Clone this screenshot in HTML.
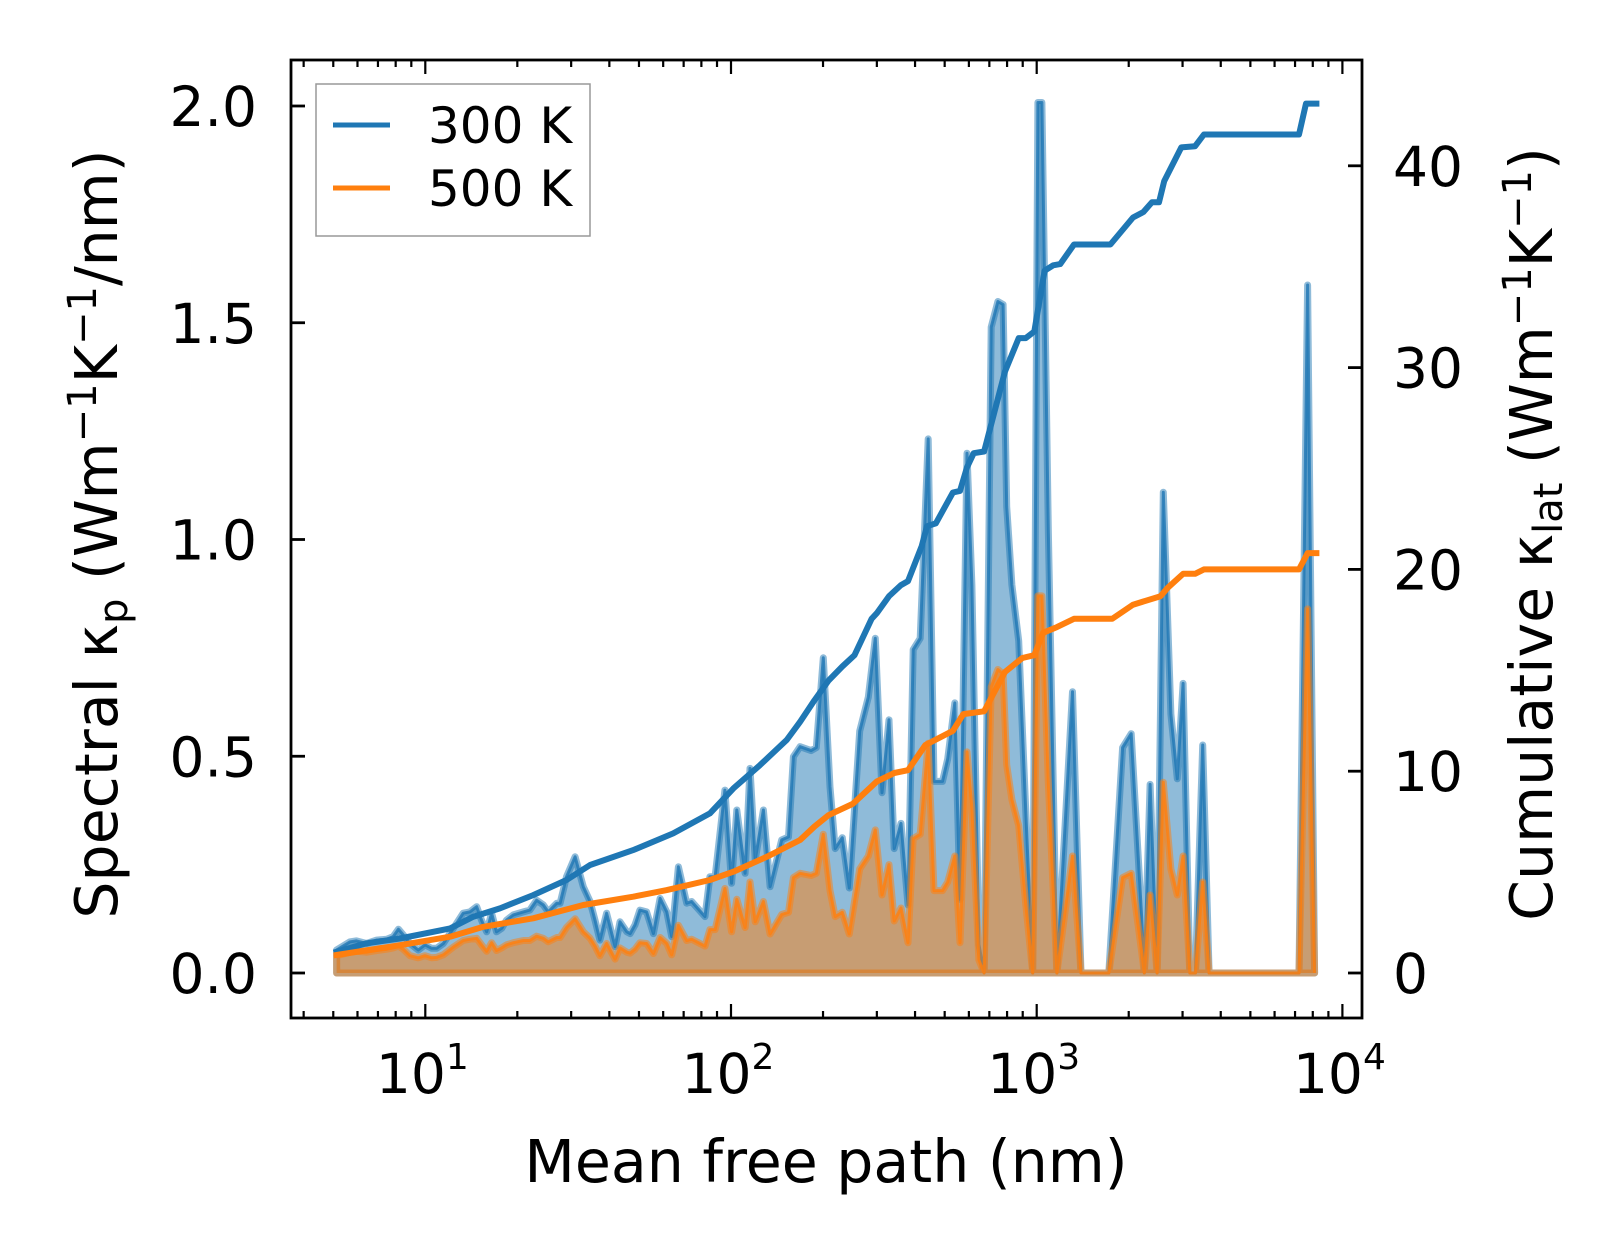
<!DOCTYPE html>
<html><head><meta charset="utf-8"><style>
html,body{margin:0;padding:0;background:#fff;}
svg{display:block;font-family:"DejaVu Sans","Liberation Sans",sans-serif;}
</style></head><body>
<svg id="chart" width="1623" height="1254" viewBox="0 0 1623 1254" xmlns="http://www.w3.org/2000/svg">
<defs><clipPath id="plotclip"><rect x="291" y="60" width="1071" height="958"/></clipPath></defs>
<g id="fills" clip-path="url(#plotclip)"></g>
<g id="cums" clip-path="url(#plotclip)"></g>
<g id="axes"></g>
<text x="826" y="1182" font-size="58.5" text-anchor="middle">Mean free path (nm)</text>
<text transform="translate(117,534) rotate(-90)" font-size="58.5" text-anchor="middle">Spectral κ<tspan font-size="40" dy="10">p</tspan><tspan dy="-10"> (Wm</tspan><tspan font-size="40" dy="-21">−1</tspan><tspan dy="21">K</tspan><tspan font-size="40" dy="-21">−1</tspan><tspan dy="21">/nm)</tspan></text>
<text transform="translate(1552,534) rotate(-90)" font-size="58.5" text-anchor="middle">Cumulative κ<tspan font-size="40" dy="10">lat</tspan><tspan dy="-10"> (Wm</tspan><tspan font-size="40" dy="-21">−1</tspan><tspan dy="21">K</tspan><tspan font-size="40" dy="-21">−1</tspan><tspan dy="21">)</tspan></text>
<g>
<rect x="316" y="84" width="274" height="152" fill="#fff" fill-opacity="0.85" stroke="#999" stroke-width="1.5"/>
<line x1="333" y1="125" x2="390" y2="125" stroke="#1f77b4" stroke-width="5"/>
<text x="428" y="143" font-size="50">300 K</text>
<line x1="333" y1="188" x2="390" y2="188" stroke="#ff7f0e" stroke-width="5"/>
<text x="428" y="206" font-size="50">500 K</text>
</g>
</svg>
<script>
const mfpLog = [0.710,0.754,0.775,0.808,0.841,0.874,0.895,0.912,0.928,0.950,0.977,0.999,1.021,1.037,1.059,1.092,1.124,1.146,1.168,1.184,1.201,1.217,1.233,1.250,1.266,1.288,1.321,1.342,1.364,1.386,1.402,1.430,1.441,1.462,1.490,1.517,1.539,1.555,1.571,1.593,1.621,1.637,1.659,1.670,1.686,1.702,1.724,1.746,1.768,1.790,1.806,1.828,1.855,1.871,1.915,1.931,1.948,1.980,2.002,2.019,2.046,2.062,2.079,2.106,2.128,2.166,2.188,2.204,2.226,2.262,2.279,2.302,2.324,2.341,2.364,2.387,2.421,2.449,2.472,2.494,2.517,2.534,2.556,2.579,2.596,2.619,2.645,2.664,2.692,2.709,2.732,2.749,2.772,2.788,2.811,2.828,2.851,2.873,2.890,2.902,2.919,2.941,2.964,2.987,3.004,3.017,3.038,3.066,3.117,3.145,3.236,3.281,3.309,3.343,3.352,3.371,3.394,3.414,3.439,3.460,3.479,3.501,3.519,3.543,3.564,3.858,3.886,3.909];
const spec300 = [.053,.072,.074,.068,.076,.078,.084,.101,.088,.068,.053,.065,.057,.057,.068,.103,.138,.141,.153,.122,.095,.138,.095,.103,.122,.134,.141,.145,.168,.157,.141,.161,.161,.222,.268,.199,.165,.122,.076,.138,.061,.118,.095,.091,.111,.145,.141,.091,.172,.141,.084,.245,.161,.165,.130,.222,.222,.422,.207,.376,.230,.472,.261,.376,.199,.307,.314,.499,.522,.513,.520,.727,.429,.287,.312,.196,.558,.636,.772,.416,.584,.287,.345,.157,.746,.772,1.232,.442,.442,.494,.623,.170,1.199,.895,.066,0,1.490,1.549,1.542,1.076,.895,.766,.377,0,2.008,2.008,1.024,0,.649,0,0,.520,.552,.131,0,.435,0,1.109,.597,.448,.668,0,0,.526,0,0,1.587,0];
const spec500 = [.040,.048,.050,.048,.052,.055,.058,.062,.055,.040,.035,.040,.035,.036,.042,.060,.075,.078,.080,.065,.050,.070,.052,.058,.065,.070,.075,.075,.085,.080,.072,.082,.082,.105,.125,.095,.080,.062,.040,.068,.032,.058,.048,.046,.055,.070,.068,.045,.082,.068,.042,.110,.075,.078,.062,.100,.100,.195,.095,.170,.105,.210,.118,.165,.090,.135,.140,.22,.23,.225,.23,.32,.19,.13,.14,.09,.24,.27,.33,.18,.25,.12,.15,.07,.31,.32,.53,.19,.19,.21,.27,.07,.51,.38,.03,0,.66,.70,.69,.48,.40,.34,.16,0,.87,.87,.44,0,.27,0,0,.22,.23,.05,0,.18,0,.44,.24,.18,.27,0,0,.21,0,0,.84,0];
const cumLog300 = [0.710,0.808,0.917,1.081,1.157,1.244,1.353,1.462,1.539,1.680,1.811,1.931,2.008,2.095,2.182,2.226,2.273,2.319,2.364,2.404,2.460,2.477,2.517,2.556,2.579,2.624,2.641,2.670,2.726,2.749,2.772,2.794,2.828,2.896,2.941,2.964,2.992,3.026,3.054,3.077,3.122,3.241,3.315,3.349,3.377,3.400,3.417,3.473,3.518,3.547,3.858,3.881,3.915];
const cum300 = [1.05,1.47,1.71,2.21,2.79,3.20,3.86,4.61,5.35,6.09,6.92,7.91,9.15,10.30,11.54,12.45,13.52,14.49,15.19,15.75,17.55,17.83,18.67,19.22,19.42,21.17,22.14,22.28,23.81,23.89,25.06,25.76,25.84,29.79,31.46,31.46,31.79,34.80,35.07,35.13,36.10,36.10,37.44,37.71,38.19,38.19,39.24,40.91,40.97,41.55,41.55,43.08,43.08];
const cumLog500 = [0.710,0.917,1.081,1.190,1.353,1.517,1.680,1.790,1.931,2.008,2.117,2.226,2.273,2.319,2.398,2.477,2.534,2.579,2.636,2.726,2.760,2.828,2.896,2.953,2.992,3.021,3.066,3.122,3.247,3.315,3.405,3.428,3.479,3.518,3.547,3.858,3.886,3.915];
const cum500 = [0.89,1.38,1.80,2.29,2.71,3.37,3.78,4.11,4.61,5.02,5.76,6.59,7.26,7.82,8.38,9.49,9.91,10.05,11.30,12.0,12.83,12.97,14.91,15.61,15.75,16.86,17.14,17.55,17.55,18.25,18.67,19.08,19.78,19.78,20.0,20.0,20.81,20.81];
const leftTicks = [0.0,0.5,1.0,1.5,2.0];
const leftTickLabels = ["0.0","0.5","1.0","1.5","2.0"];
const rightTicks = [0,10,20,30,40];
const xDecades = [1,2,3,4];

const NS = "http://www.w3.org/2000/svg";
const X0=291,X1=1362,Y0=60,Y1=1018;
function xs(lx){return 425.3+(lx-1)*305.7;}
function yL(v){return 973-v*433.5;}
function yR(c){return 973-c*20.18;}
function mk(tag,attrs,parent){const e=document.createElementNS(NS,tag);for(const k in attrs)e.setAttribute(k,attrs[k]);parent.appendChild(e);return e;}

const fills=document.getElementById('fills');
function area(vals,color,name){
  let d="M"+xs(mfpLog[0])+","+yL(0);
  for(let i=0;i<mfpLog.length;i++) d+=" L"+xs(mfpLog[i]).toFixed(1)+","+yL(vals[i]).toFixed(1);
  d+=" L"+xs(mfpLog[mfpLog.length-1])+","+yL(0)+" Z";
  const p=mk('path',{d:d,fill:color,'fill-opacity':0.5,stroke:color,'stroke-opacity':0.5,'stroke-width':7,'stroke-linejoin':'round'},fills);
  
  
  let d2="M"+xs(mfpLog[0]).toFixed(1)+","+yL(vals[0]).toFixed(1);
  for(let i=1;i<mfpLog.length;i++) d2+=" L"+xs(mfpLog[i]).toFixed(1)+","+yL(vals[i]).toFixed(1);
  const l=mk('path',{d:d2,fill:'none',stroke:color,'stroke-opacity':0.8,'stroke-width':3,'stroke-linejoin':'round'},fills);
  
  
}
area(spec300,'#1f77b4','spectral-300k');
area(spec500,'#ff7f0e','spectral-500k');

const cums=document.getElementById('cums');
function cline(xl,vals,color,name){
  let d="";
  for(let i=0;i<xl.length;i++) d+=(i?" L":"M")+xs(xl[i]).toFixed(1)+","+yR(vals[i]).toFixed(1);
  const p=mk('path',{d:d,fill:'none',stroke:color,'stroke-width':6,'stroke-linejoin':'round','stroke-linecap':'square'},cums);
  
  
}
cline(cumLog300,cum300,'#1f77b4','cumulative-300k');
cline(cumLog500,cum500,'#ff7f0e','cumulative-500k');

const ax=document.getElementById('axes');
const frame=mk('rect',{x:X0,y:Y0,width:X1-X0,height:Y1-Y0,fill:'none',stroke:'#000','stroke-width':2.8},ax);


for(let i=0;i<leftTicks.length;i++){
  const y=yL(leftTicks[i]);
  const t=mk('line',{x1:X0,y1:y,x2:X0+14,y2:y,stroke:'#000','stroke-width':2.8},ax);
  
  
  const tx=mk('text',{x:257,y:y+20,'font-size':55,'text-anchor':'end'},ax);
  tx.textContent=leftTickLabels[i];
  
  
}
for(let i=0;i<rightTicks.length;i++){
  const y=yR(rightTicks[i]);
  const t=mk('line',{x1:X1-14,y1:y,x2:X1,y2:y,stroke:'#000','stroke-width':2.8},ax);
  
  
  const tx=mk('text',{x:1393,y:y+20,'font-size':55,'text-anchor':'start'},ax);
  tx.textContent=String(rightTicks[i]);
  
  
}
for(let dec=0;dec<=4;dec++){
  for(let k=1;k<=9;k++){
    const x=xs(dec+Math.log10(k));
    if(x<X0+1||x>X1-1)continue;
    const len=(k===1)?14:7;
    const b=mk('line',{x1:x,y1:Y1,x2:x,y2:Y1-len,stroke:'#000','stroke-width':2.2},ax);
    
    
    const t=mk('line',{x1:x,y1:Y0,x2:x,y2:Y0+len,stroke:'#000','stroke-width':2.2},ax);
    
    
  }
}
for(const dec of xDecades){
  const x=xs(dec);
  const tx=mk('text',{x:x-3,y:1093,'font-size':55,'text-anchor':'middle'},ax);
  
  
  tx.textContent="10";
  const sup=mk('tspan',{'font-size':36,dy:-24},tx);
  sup.textContent=String(dec);
}
</script>
</body></html>
